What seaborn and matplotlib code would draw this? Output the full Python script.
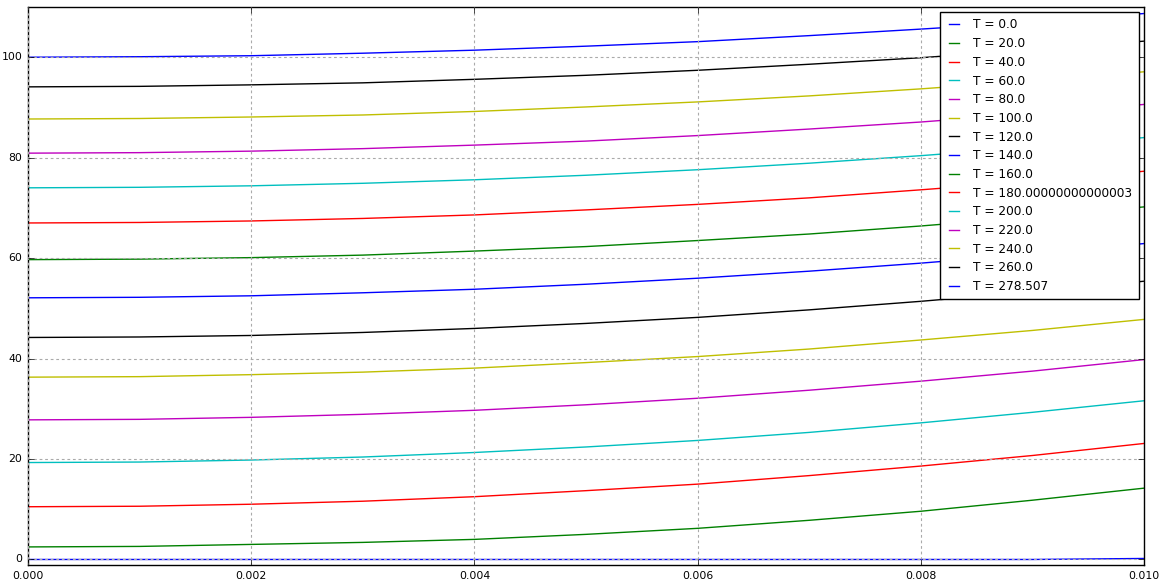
import numpy as np
import pandas as pd
import matplotlib
matplotlib.use("Agg")
import matplotlib.pyplot as plt
import seaborn as sns

# x positions of the samples (every 0.001)
x = [0.000, 0.001, 0.002, 0.003, 0.004, 0.005, 0.006, 0.007, 0.008, 0.009, 0.010]

labels = ['T = 0.0', 'T = 20.0', 'T = 40.0', 'T = 60.0', 'T = 80.0', 'T = 100.0',
          'T = 120.0', 'T = 140.0', 'T = 160.0', 'T = 180.00000000000003',
          'T = 200.0', 'T = 220.0', 'T = 240.0', 'T = 260.0', 'T = 278.507']

# values of each curve
u_0 = [0.0, 0.0, 0.0, 0.0, 0.0, 0.0, 0.0, 0.0, 0.0, 0.0, 0.2]
u_20 = [2.5, 2.6, 3.0, 3.4, 4.0, 5.0, 6.2, 7.8, 9.6, 11.8, 14.2]
u_40 = [10.5, 10.6, 11.0, 11.6, 12.5, 13.7, 15.0, 16.7, 18.6, 20.7, 23.1]
u_60 = [19.3, 19.4, 19.8, 20.4, 21.3, 22.4, 23.7, 25.3, 27.2, 29.3, 31.6]
u_80 = [27.8, 27.9, 28.3, 28.9, 29.7, 30.8, 32.1, 33.7, 35.5, 37.5, 39.8]
u_100 = [36.3, 36.4, 36.8, 37.3, 38.1, 39.2, 40.4, 41.9, 43.7, 45.6, 47.8]
u_120 = [44.2, 44.3, 44.6, 45.2, 46.0, 47.0, 48.2, 49.7, 51.4, 53.3, 55.4]
u_140 = [52.1, 52.2, 52.5, 53.1, 53.8, 54.8, 56.0, 57.4, 59.0, 60.8, 62.9]
u_160 = [59.7, 59.8, 60.1, 60.6, 61.4, 62.3, 63.5, 64.8, 66.4, 68.2, 70.2]
u_180 = [67.0, 67.1, 67.4, 67.9, 68.6, 69.6, 70.7, 72.0, 73.6, 75.3, 77.3]
u_200 = [74.0, 74.1, 74.4, 74.9, 75.6, 76.5, 77.6, 78.9, 80.4, 82.1, 84.0]
u_220 = [80.9, 81.0, 81.3, 81.8, 82.5, 83.3, 84.4, 85.7, 87.1, 88.8, 90.6]
u_240 = [87.7, 87.8, 88.1, 88.5, 89.2, 90.1, 91.1, 92.3, 93.7, 95.3, 97.1]
u_260 = [94.1, 94.2, 94.5, 94.9, 95.6, 96.4, 97.4, 98.6, 99.9, 101.5, 103.2]
u_278 = [100.0, 100.1, 100.3, 100.8, 101.4, 102.2, 103.1, 104.3, 105.6, 107.0, 108.7]

curves = [u_0, u_20, u_40, u_60, u_80, u_100, u_120, u_140, u_160, u_180,
          u_200, u_220, u_240, u_260, u_278]

# old matplotlib colour cycle
colors = ['b', 'g', 'r', 'c', 'm', 'y', 'k']

plt.style.use('classic')
plt.rcParams['figure.facecolor'] = 'white'
plt.rcParams['font.family'] = ['DejaVu Sans']

fig = plt.figure(figsize=(11.65, 5.86), dpi=100)
ax = fig.add_axes([28/1165, 1 - 565/586, (1144 - 28)/1165, (565 - 7)/586])

for i, (lab, vals) in enumerate(zip(labels, curves)):
    df = pd.DataFrame({'x': x, 'u': vals})
    sns.lineplot(data=df, x='x', y='u', color=colors[i % 7], label=lab,
                 linewidth=1.0, ax=ax)

ax.set_xlim(0, 0.01)
ax.set_ylim(-1.1, 110)
ax.set_xticks([0.000, 0.002, 0.004, 0.006, 0.008, 0.010])
ax.set_xticklabels(['0.000', '0.002', '0.004', '0.006', '0.008', '0.010'])
ax.set_yticks([0, 20, 40, 60, 80, 100])
ax.set_xlabel('')
ax.set_ylabel('')
ax.tick_params(labelsize=7.8)
ax.grid(True, color='#aaaaaa', linestyle=(0, (2, 2)), linewidth=0.8)

leg = ax.legend(loc='upper right', fontsize=8.7, handlelength=1.4,
                handletextpad=0.9, labelspacing=0.47, borderpad=0.5,
                borderaxespad=0.45, frameon=True)
leg.get_frame().set_edgecolor('black')

fig.savefig('out.png', dpi=100, facecolor='white')
